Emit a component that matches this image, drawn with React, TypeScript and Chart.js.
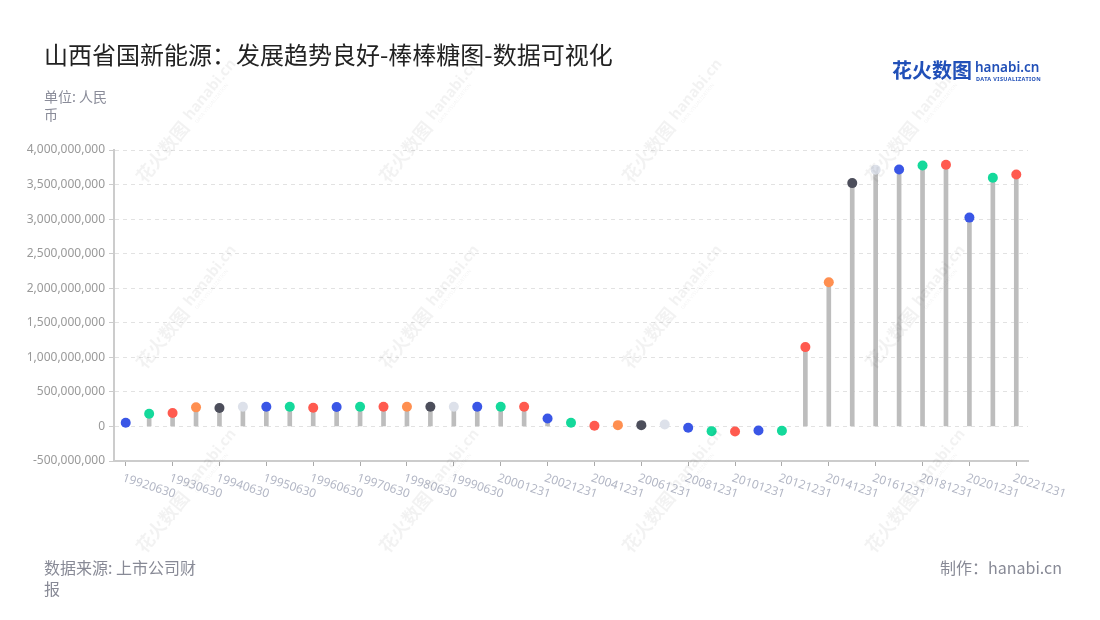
import React, { useEffect, useRef } from "react";
import { Chart, registerables } from "chart.js";

Chart.register(...registerables);

const categories: string[] = [
  "19920630", "19921231", "19930630", "19931231", "19940630", "19941231",
  "19950630", "19951231", "19960630", "19961231", "19970630", "19971231",
  "19980630", "19981231", "19990630", "19991231", "20001231", "20011231",
  "20021231", "20031231", "20041231", "20051231", "20061231", "20071231",
  "20081231", "20091231", "20101231", "20111231", "20121231", "20131231",
  "20141231", "20151231", "20161231", "20171231", "20181231", "20191231",
  "20201231", "20211231", "20221231",
];

const values: number[] = [
  53e6, 184e6, 194e6, 276e6, 266e6, 286e6,
  286e6, 286e6, 271e6, 281e6, 286e6, 286e6,
  286e6, 286e6, 286e6, 286e6, 286e6, 286e6,
  116e6, 53e6, 10e6, 19e6, 19e6, 29e6,
  -19e6, -68e6, -73e6, -58e6, -63e6, 1148e6,
  2087e6, 3521e6, 3714e6, 3719e6, 3777e6, 3787e6,
  3022e6, 3598e6, 3646e6,
];

const palette: string[] = [
  "#3a56e6", "#14d99b", "#ff5a4f", "#ff8f50", "#4c4e5b", "#dde1ea",
  "#3a56e6", "#14d99b", "#ff5a4f",
];

const yMin = -500000000;
const yMax = 4000000000;
const yStep = 500000000;

const FONT = '"Noto Sans CJK SC", "Noto Sans", sans-serif';

const xLabelPlugin = {
  id: "xLabels",
  afterDraw(chart: any) {
    const xs = chart.scales.x;
    const ctx = chart.ctx;
    ctx.save();
    ctx.font = '12px "Noto Sans", sans-serif';
    ctx.fillStyle = "#b3b7c5";
    ctx.textAlign = "left";
    ctx.textBaseline = "top";
    categories.forEach((c, i) => {
      if (i % 2 !== 0) return;
      const px = xs.getPixelForValue(i);
      ctx.save();
      ctx.translate(px - 1, chart.chartArea.bottom + 11);
      ctx.rotate((18 * Math.PI) / 180);
      ctx.fillText(c, 0, 0);
      ctx.restore();
    });
    ctx.restore();
  },
};

const watermarkPlugin = {
  id: "watermark",
  afterDraw(chart: any) {
    const ctx = chart.ctx;
    const cols = [185, 428, 671, 914];
    const rows = [124, 310, 494];
    ctx.save();
    ctx.fillStyle = "rgba(0,0,0,0.05)";
    ctx.textBaseline = "middle";
    for (const cy of rows) {
      for (const cx of cols) {
        ctx.save();
        ctx.translate(cx, cy);
        ctx.rotate((-51 * Math.PI) / 180);
        ctx.textAlign = "left";
        ctx.font = 'bold 18px "Noto Sans CJK SC", sans-serif';
        ctx.fillText("花火数图", -72, 0);
        ctx.font = 'bold 15px "Noto Sans", sans-serif';
        ctx.fillText("hanabi.cn", 6, -2);
        ctx.font = '5px "Noto Sans", sans-serif';
        ctx.fillText("DATA VISUALIZATION", 8, 8);
        ctx.restore();
      }
    }
    ctx.restore();
  },
};

function LollipopChart() {
  const ref = useRef<HTMLCanvasElement | null>(null);
  useEffect(() => {
    if (!ref.current) return;
    const chart = new Chart(ref.current, {
      type: "bar",
      data: {
        labels: categories,
        datasets: [
          {
            type: "bar",
            data: values,
            backgroundColor: "#bdbdbd",
            barThickness: 4,
            order: 2,
          } as any,
          {
            type: "line",
            data: values,
            showLine: false,
            pointRadius: 5,
            pointHoverRadius: 5,
            pointBorderWidth: 0,
            pointBackgroundColor: values.map((_, i) => palette[i % palette.length]),
            order: 1,
          } as any,
        ],
      },
      options: {
        responsive: false,
        animation: false,
        layout: { padding: { left: 0, right: 72, top: 150, bottom: 0 } },
        plugins: {
          legend: { display: false },
          tooltip: { enabled: false },
        },
        scales: {
          x: {
            type: "category",
            offset: true,
            grid: {
              display: true,
              offset: false,
              drawOnChartArea: false,
              drawTicks: true,
              tickLength: 5,
              color: (c: any) => (c.index % 2 === 0 ? "#aaaaaa" : "rgba(0,0,0,0)"),
              tickColor: (c: any) => (c.index % 2 === 0 ? "#aaaaaa" : "rgba(0,0,0,0)"),
            },
            border: { display: true, color: "#cccccc", width: 2 },
            ticks: { display: false, autoSkip: false },
            afterFit: (s: any) => {
              s.height = 159;
            },
          },
          y: {
            min: yMin,
            max: yMax,
            ticks: {
              stepSize: yStep,
              color: "#999999",
              padding: 4,
              font: { size: 12, family: '"Noto Sans", sans-serif' },
              callback: (v: any) => Number(v).toLocaleString("en-US"),
            },
            grid: {
              color: "#e2e2e2",
              tickColor: "#cccccc",
              tickLength: 5,
              lineWidth: 1,
              tickBorderDash: [],
            },
            border: { display: true, color: "#cccccc", width: 2, dash: [4, 4] },
            afterFit: (s: any) => {
              s.width = 114;
            },
          },
        },
      },
      plugins: [xLabelPlugin, watermarkPlugin],
    } as any);
    return () => chart.destroy();
  }, []);
  return (
    <canvas
      ref={ref}
      width={1100}
      height={620}
      style={{ position: "absolute", left: 0, top: 0, width: 1100, height: 620 }}
    />
  );
}

export default function App() {
  return (
    <div
      style={{
        position: "fixed",
        left: 0,
        top: 0,
        width: 1100,
        height: 620,
        background: "#ffffff",
        fontFamily: FONT,
        overflow: "hidden",
      }}
    >
      <LollipopChart />
      <div
        style={{
          position: "absolute",
          left: 44,
          top: 38,
          fontSize: 24,
          lineHeight: "32px",
          color: "#222222",
          whiteSpace: "nowrap",
        }}
      >
        山西省国新能源：发展趋势良好-棒棒糖图-数据可视化
      </div>
      <div
        style={{
          position: "absolute",
          left: 44,
          top: 87,
          fontSize: 14,
          lineHeight: "18px",
          color: "#8a8c99",
        }}
      >
        <div>单位: 人民</div>
        <div>币</div>
      </div>
      <div
        style={{
          position: "absolute",
          left: 44,
          top: 557,
          fontSize: 16,
          lineHeight: "21px",
          color: "#888a96",
        }}
      >
        <div>数据来源: 上市公司财</div>
        <div>报</div>
      </div>
      <div
        style={{
          position: "absolute",
          right: 38,
          top: 557,
          fontSize: 16,
          lineHeight: "21px",
          color: "#888a96",
          whiteSpace: "nowrap",
        }}
      >
        制作：hanabi.cn
      </div>
      <div
        style={{
          position: "absolute",
          left: 892,
          top: 57,
          fontSize: 20,
          lineHeight: "26px",
          fontWeight: 700,
          color: "#2150b8",
          whiteSpace: "nowrap",
        }}
      >
        花火数图
      </div>
      <div
        style={{
          position: "absolute",
          left: 975,
          top: 58,
          fontSize: 13.5,
          lineHeight: "18px",
          fontWeight: 600,
          color: "#2150b8",
          fontFamily: '"Noto Sans", sans-serif',
          whiteSpace: "nowrap",
        }}
      >
        hanabi.cn
      </div>
      <div
        style={{
          position: "absolute",
          left: 976,
          top: 76,
          fontSize: 5.5,
          lineHeight: "7px",
          fontWeight: 700,
          letterSpacing: 0.4,
          color: "#2150b8",
          fontFamily: '"Noto Sans", sans-serif',
          whiteSpace: "nowrap",
        }}
      >
        DATA VISUALIZATION
      </div>
    </div>
  );
}
